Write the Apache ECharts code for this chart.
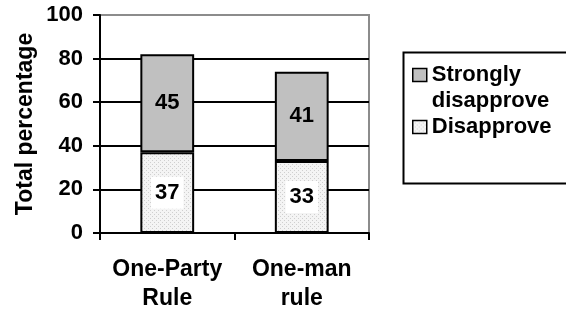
<!DOCTYPE html>
<html>
<head>
<meta charset="utf-8">
<script src="https://cdn.jsdelivr.net/npm/echarts@6/dist/echarts.min.js"></script>
<style>
  html, body { margin: 0; padding: 0; background: #fff; }
  #main { width: 566px; height: 310px; }
</style>
</head>
<body>
<div id="main"></div>
<script>
// chart data
var categories = ['One-Party\nRule', 'One-man\nrule'];
var disapprove = [37, 33];
var stronglyDisapprove = [45, 41];
var yTicks = { min: 0, max: 100, interval: 20 };

var FONT = "'Liberation Sans', Arial, sans-serif";

// light dotted fill like the excel pattern
function dotPattern() {
  var c = document.createElement('canvas');
  c.width = 4; c.height = 4;
  var ctx = c.getContext('2d');
  ctx.fillStyle = '#f4f4f4';
  ctx.fillRect(0, 0, 4, 4);
  ctx.fillStyle = '#cfcfcf';
  ctx.fillRect(0, 0, 1, 1);
  ctx.fillRect(2, 2, 1, 1);
  return c;
}

var chart = echarts.init(document.getElementById('main'));

var option = {
  animation: false,
  backgroundColor: '#fff',
  textStyle: { fontFamily: FONT, fontWeight: 'bold' },
  grid: {
    left: 100, right: 197, top: 15, bottom: 77,
    outerBoundsMode: 'none',
    containLabel: false,
    show: true,
    borderColor: '#8c8c8c',
    borderWidth: 2
  },
  legend: {
    orient: 'vertical',
    left: 412,
    top: 36,
    padding: 0,
    itemGap: 0,
    itemWidth: 14,
    itemHeight: 13,
    icon: 'rect',
    itemStyle: { borderColor: '#000', borderWidth: 1.5 },
    textStyle: { fontSize: 22, fontWeight: 'bold', color: '#000', lineHeight: 26, fontFamily: FONT },
    formatter: function (name) {
      // empty first line so "Strongly" sits level with the icon
      return name === 'Strongly disapprove' ? ' \nStrongly\ndisapprove' : name;
    },
    data: ['Strongly disapprove', 'Disapprove']
  },
  graphic: [{
    type: 'rect',
    shape: { x: 403.5, y: 52.5, width: 170, height: 131 },
    style: { fill: 'none', stroke: '#000', lineWidth: 2 },
    z: 0
  }],
  xAxis: {
    type: 'category',
    data: categories,
    axisLine: { lineStyle: { color: '#000', width: 2 } },
    axisTick: { show: true, length: 7, lineStyle: { color: '#000', width: 2 } },
    axisLabel: {
      interval: 0,
      hideOverlap: false,
      color: '#000', fontSize: 23, fontWeight: 'bold', fontFamily: FONT,
      lineHeight: 29, margin: 22
    }
  },
  yAxis: {
    type: 'value',
    min: yTicks.min,
    max: yTicks.max,
    interval: yTicks.interval,
    name: 'Total percentage',
    nameLocation: 'middle',
    nameRotate: 90,
    nameGap: 63,
    nameTextStyle: { color: '#000', fontSize: 23, fontWeight: 'bold', fontFamily: FONT },
    axisLine: { show: true, lineStyle: { color: '#000', width: 2 } },
    axisTick: { show: true, length: 7, lineStyle: { color: '#000', width: 2 } },
    axisLabel: { color: '#000', fontSize: 22, fontWeight: 'bold', fontFamily: FONT, margin: 17 },
    splitLine: {
      show: true,
      lineStyle: { color: ['#000', '#000', '#000', '#000', '#000', '#8c8c8c'], width: 2 }
    }
  },
  series: [
    {
      name: 'Disapprove',
      type: 'bar',
      stack: 'total',
      barWidth: '40%',
      data: disapprove,
      itemStyle: { color: { image: dotPattern(), repeat: 'repeat' }, borderColor: '#000', borderWidth: 2 },
      label: {
        show: true, position: 'inside', color: '#000', fontSize: 22, fontWeight: 'bold',
        fontFamily: FONT, backgroundColor: '#fff', padding: [5, 4]
      }
    },
    {
      name: 'Strongly disapprove',
      type: 'bar',
      stack: 'total',
      barWidth: '40%',
      data: stronglyDisapprove,
      itemStyle: { color: '#c0c0c0', borderColor: '#000', borderWidth: 2 },
      label: {
        show: true, position: 'inside', color: '#000', fontSize: 22, fontWeight: 'bold', fontFamily: FONT
      }
    }
  ]
};

chart.setOption(option);
</script>
</body>
</html>
